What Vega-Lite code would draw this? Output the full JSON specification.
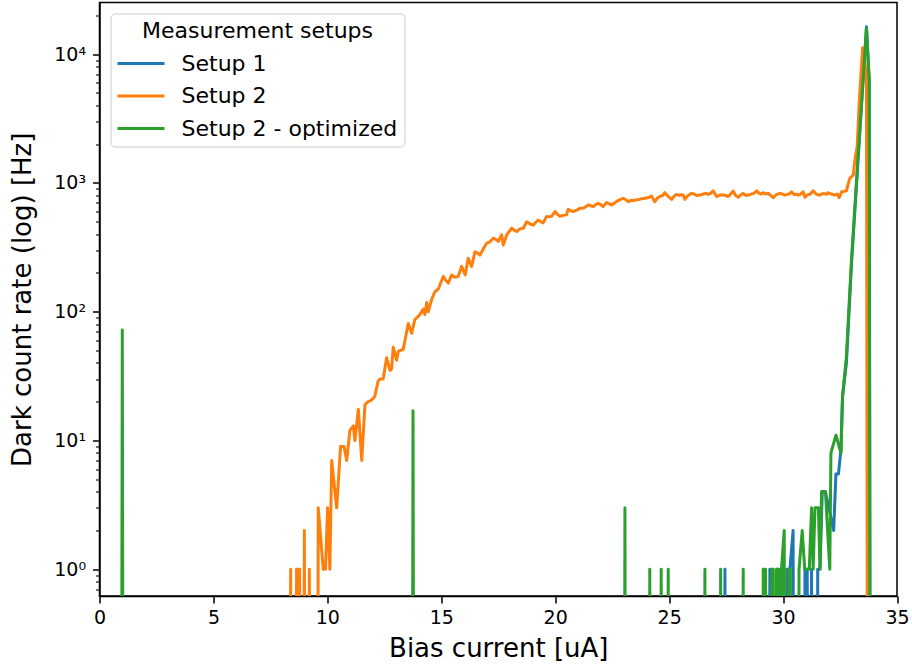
{
  "$schema": "https://vega.github.io/schema/vega-lite/v6.json",
  "autosize": {"type": "none"},
  "padding": {"left": 99.5, "top": 2.5, "right": 15, "bottom": 76},
  "width": 797.5,
  "height": 593.5,
  "background": "white",
  "config": {
    "font": "DejaVu Sans",
    "view": {"stroke": "black", "strokeWidth": 1.5},
    "axis": {"grid": false, "domainColor": "black", "domainWidth": 1.5, "tickColor": "black", "labelColor": "black", "titleColor": "black", "labelFont": "DejaVu Sans", "titleFont": "DejaVu Sans", "titleFontWeight": "normal", "labelFontSize": 19, "titleFontSize": 26},
    "legend": {"strokeColor": "#cccccc", "fillColor": "rgba(255,255,255,0.8)", "cornerRadius": 4, "padding": 7}
  },
  "data": {"values": [
    {"setup":"Setup 1","bias":27.35,"rate":1e-9},
    {"setup":"Setup 1","bias":27.45,"rate":1},
    {"setup":"Setup 1","bias":27.55,"rate":1e-9},
    {"setup":"Setup 1","bias":29.32,"rate":1e-9},
    {"setup":"Setup 1","bias":29.42,"rate":1},
    {"setup":"Setup 1","bias":29.52,"rate":1e-9},
    {"setup":"Setup 1","bias":29.65,"rate":1e-9},
    {"setup":"Setup 1","bias":29.75,"rate":1},
    {"setup":"Setup 1","bias":29.85,"rate":1e-9},
    {"setup":"Setup 1","bias":30.07,"rate":1e-9},
    {"setup":"Setup 1","bias":30.17,"rate":1},
    {"setup":"Setup 1","bias":30.3,"rate":1},
    {"setup":"Setup 1","bias":30.44,"rate":2},
    {"setup":"Setup 1","bias":30.54,"rate":1e-9},
    {"setup":"Setup 1","bias":30.86,"rate":1e-9},
    {"setup":"Setup 1","bias":30.96,"rate":1},
    {"setup":"Setup 1","bias":31.06,"rate":1},
    {"setup":"Setup 1","bias":31.16,"rate":1e-9},
    {"setup":"Setup 1","bias":31.25,"rate":1},
    {"setup":"Setup 1","bias":31.35,"rate":1e-9},
    {"setup":"Setup 1","bias":31.45,"rate":1e-9},
    {"setup":"Setup 1","bias":31.52,"rate":1},
    {"setup":"Setup 1","bias":31.62,"rate":1},
    {"setup":"Setup 1","bias":31.72,"rate":4},
    {"setup":"Setup 1","bias":31.86,"rate":4},
    {"setup":"Setup 1","bias":32.22,"rate":2},
    {"setup":"Setup 1","bias":32.32,"rate":5.5},
    {"setup":"Setup 1","bias":32.43,"rate":5.5},
    {"setup":"Setup 1","bias":32.54,"rate":8.5},
    {"setup":"Setup 1","bias":32.61,"rate":22},
    {"setup":"Setup 1","bias":32.78,"rate":40},
    {"setup":"Setup 1","bias":33.0,"rate":230},
    {"setup":"Setup 1","bias":33.3,"rate":1600},
    {"setup":"Setup 1","bias":33.66,"rate":16300},
    {"setup":"Setup 1","bias":33.78,"rate":6300},
    {"setup":"Setup 1","bias":33.88,"rate":1e-9},

    {"setup":"Setup 2","bias":8.29,"rate":1e-9},
    {"setup":"Setup 2","bias":8.39,"rate":1},
    {"setup":"Setup 2","bias":8.5,"rate":1e-9},
    {"setup":"Setup 2","bias":8.65,"rate":1},
    {"setup":"Setup 2","bias":8.78,"rate":1},
    {"setup":"Setup 2","bias":8.88,"rate":1e-9},
    {"setup":"Setup 2","bias":8.99,"rate":2},
    {"setup":"Setup 2","bias":9.1,"rate":1e-9},
    {"setup":"Setup 2","bias":9.21,"rate":1},
    {"setup":"Setup 2","bias":9.31,"rate":1e-9},
    {"setup":"Setup 2","bias":9.5,"rate":1e-9},
    {"setup":"Setup 2","bias":9.6,"rate":3},
    {"setup":"Setup 2","bias":9.82,"rate":1},
    {"setup":"Setup 2","bias":9.92,"rate":1},
    {"setup":"Setup 2","bias":10.01,"rate":3},
    {"setup":"Setup 2","bias":10.11,"rate":1},
    {"setup":"Setup 2","bias":10.19,"rate":7},
    {"setup":"Setup 2","bias":10.41,"rate":3},
    {"setup":"Setup 2","bias":10.58,"rate":9},
    {"setup":"Setup 2","bias":10.73,"rate":9},
    {"setup":"Setup 2","bias":10.85,"rate":7},
    {"setup":"Setup 2","bias":10.99,"rate":12},
    {"setup":"Setup 2","bias":11.14,"rate":13},
    {"setup":"Setup 2","bias":11.21,"rate":10},
    {"setup":"Setup 2","bias":11.36,"rate":17.5},
    {"setup":"Setup 2","bias":11.51,"rate":7},
    {"setup":"Setup 2","bias":11.65,"rate":19},
    {"setup":"Setup 2","bias":11.79,"rate":20},
    {"setup":"Setup 2","bias":11.94,"rate":20.6},
    {"setup":"Setup 2","bias":12.08,"rate":22},
    {"setup":"Setup 2","bias":12.23,"rate":29},
    {"setup":"Setup 2","bias":12.31,"rate":30},
    {"setup":"Setup 2","bias":12.45,"rate":30},
    {"setup":"Setup 2","bias":12.6,"rate":44},
    {"setup":"Setup 2","bias":12.75,"rate":35},
    {"setup":"Setup 2","bias":12.82,"rate":36},
    {"setup":"Setup 2","bias":12.89,"rate":53},
    {"setup":"Setup 2","bias":13.04,"rate":42},
    {"setup":"Setup 2","bias":13.11,"rate":49},
    {"setup":"Setup 2","bias":13.19,"rate":50},
    {"setup":"Setup 2","bias":13.33,"rate":51},
    {"setup":"Setup 2","bias":13.55,"rate":81},
    {"setup":"Setup 2","bias":13.7,"rate":68},
    {"setup":"Setup 2","bias":13.84,"rate":87},
    {"setup":"Setup 2","bias":13.99,"rate":92},
    {"setup":"Setup 2","bias":14.06,"rate":95},
    {"setup":"Setup 2","bias":14.21,"rate":105},
    {"setup":"Setup 2","bias":14.28,"rate":95},
    {"setup":"Setup 2","bias":14.36,"rate":118},
    {"setup":"Setup 2","bias":14.43,"rate":100},
    {"setup":"Setup 2","bias":14.58,"rate":125},
    {"setup":"Setup 2","bias":14.72,"rate":143},
    {"setup":"Setup 2","bias":14.87,"rate":150},
    {"setup":"Setup 2","bias":15.09,"rate":188},
    {"setup":"Setup 2","bias":15.2,"rate":175},
    {"setup":"Setup 2","bias":15.31,"rate":167},
    {"setup":"Setup 2","bias":15.45,"rate":193},
    {"setup":"Setup 2","bias":15.6,"rate":185},
    {"setup":"Setup 2","bias":15.74,"rate":188},
    {"setup":"Setup 2","bias":15.89,"rate":225},
    {"setup":"Setup 2","bias":16.05,"rate":193},
    {"setup":"Setup 2","bias":16.18,"rate":260},
    {"setup":"Setup 2","bias":16.33,"rate":225},
    {"setup":"Setup 2","bias":16.48,"rate":292},
    {"setup":"Setup 2","bias":16.6,"rate":285},
    {"setup":"Setup 2","bias":16.7,"rate":276},
    {"setup":"Setup 2","bias":16.85,"rate":310},
    {"setup":"Setup 2","bias":16.99,"rate":340},
    {"setup":"Setup 2","bias":17.14,"rate":350},
    {"setup":"Setup 2","bias":17.28,"rate":372},
    {"setup":"Setup 2","bias":17.4,"rate":365},
    {"setup":"Setup 2","bias":17.5,"rate":351},
    {"setup":"Setup 2","bias":17.65,"rate":395},
    {"setup":"Setup 2","bias":17.72,"rate":330},
    {"setup":"Setup 2","bias":17.87,"rate":395},
    {"setup":"Setup 2","bias":17.98,"rate":420},
    {"setup":"Setup 2","bias":18.09,"rate":445},
    {"setup":"Setup 2","bias":18.2,"rate":430},
    {"setup":"Setup 2","bias":18.31,"rate":420},
    {"setup":"Setup 2","bias":18.45,"rate":440},
    {"setup":"Setup 2","bias":18.6,"rate":445},
    {"setup":"Setup 2","bias":18.75,"rate":500},
    {"setup":"Setup 2","bias":18.9,"rate":480},
    {"setup":"Setup 2","bias":19.03,"rate":470},
    {"setup":"Setup 2","bias":19.15,"rate":495},
    {"setup":"Setup 2","bias":19.25,"rate":515},
    {"setup":"Setup 2","bias":19.37,"rate":500},
    {"setup":"Setup 2","bias":19.47,"rate":490},
    {"setup":"Setup 2","bias":19.62,"rate":550},
    {"setup":"Setup 2","bias":19.73,"rate":545},
    {"setup":"Setup 2","bias":19.84,"rate":550},
    {"setup":"Setup 2","bias":19.99,"rate":600},
    {"setup":"Setup 2","bias":20.1,"rate":570},
    {"setup":"Setup 2","bias":20.21,"rate":550},
    {"setup":"Setup 2","bias":20.35,"rate":560},
    {"setup":"Setup 2","bias":20.5,"rate":565},
    {"setup":"Setup 2","bias":20.57,"rate":625},
    {"setup":"Setup 2","bias":20.68,"rate":610},
    {"setup":"Setup 2","bias":20.79,"rate":600},
    {"setup":"Setup 2","bias":20.95,"rate":615},
    {"setup":"Setup 2","bias":21.08,"rate":635},
    {"setup":"Setup 2","bias":21.25,"rate":640},
    {"setup":"Setup 2","bias":21.45,"rate":675},
    {"setup":"Setup 2","bias":21.55,"rate":665},
    {"setup":"Setup 2","bias":21.67,"rate":655},
    {"setup":"Setup 2","bias":21.78,"rate":680},
    {"setup":"Setup 2","bias":21.89,"rate":695},
    {"setup":"Setup 2","bias":22.0,"rate":680},
    {"setup":"Setup 2","bias":22.1,"rate":655},
    {"setup":"Setup 2","bias":22.25,"rate":705},
    {"setup":"Setup 2","bias":22.36,"rate":690},
    {"setup":"Setup 2","bias":22.47,"rate":675},
    {"setup":"Setup 2","bias":22.6,"rate":700},
    {"setup":"Setup 2","bias":22.76,"rate":730},
    {"setup":"Setup 2","bias":22.87,"rate":745},
    {"setup":"Setup 2","bias":22.98,"rate":760},
    {"setup":"Setup 2","bias":23.1,"rate":740},
    {"setup":"Setup 2","bias":23.2,"rate":715},
    {"setup":"Setup 2","bias":23.35,"rate":735},
    {"setup":"Setup 2","bias":23.45,"rate":730},
    {"setup":"Setup 2","bias":23.57,"rate":740},
    {"setup":"Setup 2","bias":23.7,"rate":745},
    {"setup":"Setup 2","bias":23.8,"rate":755},
    {"setup":"Setup 2","bias":23.94,"rate":760},
    {"setup":"Setup 2","bias":24.1,"rate":770},
    {"setup":"Setup 2","bias":24.23,"rate":790},
    {"setup":"Setup 2","bias":24.37,"rate":715},
    {"setup":"Setup 2","bias":24.48,"rate":760},
    {"setup":"Setup 2","bias":24.59,"rate":785},
    {"setup":"Setup 2","bias":24.7,"rate":795},
    {"setup":"Setup 2","bias":24.81,"rate":840},
    {"setup":"Setup 2","bias":24.95,"rate":790},
    {"setup":"Setup 2","bias":25.11,"rate":745},
    {"setup":"Setup 2","bias":25.22,"rate":790},
    {"setup":"Setup 2","bias":25.33,"rate":815},
    {"setup":"Setup 2","bias":25.45,"rate":800},
    {"setup":"Setup 2","bias":25.55,"rate":810},
    {"setup":"Setup 2","bias":25.62,"rate":805},
    {"setup":"Setup 2","bias":25.69,"rate":745},
    {"setup":"Setup 2","bias":25.8,"rate":790},
    {"setup":"Setup 2","bias":25.9,"rate":815},
    {"setup":"Setup 2","bias":25.99,"rate":830},
    {"setup":"Setup 2","bias":26.1,"rate":820},
    {"setup":"Setup 2","bias":26.2,"rate":800},
    {"setup":"Setup 2","bias":26.35,"rate":805},
    {"setup":"Setup 2","bias":26.5,"rate":820},
    {"setup":"Setup 2","bias":26.6,"rate":830},
    {"setup":"Setup 2","bias":26.71,"rate":815},
    {"setup":"Setup 2","bias":26.82,"rate":830},
    {"setup":"Setup 2","bias":26.93,"rate":870},
    {"setup":"Setup 2","bias":27.08,"rate":785},
    {"setup":"Setup 2","bias":27.2,"rate":800},
    {"setup":"Setup 2","bias":27.3,"rate":810},
    {"setup":"Setup 2","bias":27.37,"rate":805},
    {"setup":"Setup 2","bias":27.48,"rate":800},
    {"setup":"Setup 2","bias":27.59,"rate":785},
    {"setup":"Setup 2","bias":27.7,"rate":820},
    {"setup":"Setup 2","bias":27.81,"rate":865},
    {"setup":"Setup 2","bias":27.92,"rate":800},
    {"setup":"Setup 2","bias":28.04,"rate":775},
    {"setup":"Setup 2","bias":28.15,"rate":810},
    {"setup":"Setup 2","bias":28.25,"rate":830},
    {"setup":"Setup 2","bias":28.36,"rate":800},
    {"setup":"Setup 2","bias":28.47,"rate":805},
    {"setup":"Setup 2","bias":28.6,"rate":820},
    {"setup":"Setup 2","bias":28.72,"rate":830},
    {"setup":"Setup 2","bias":28.84,"rate":870},
    {"setup":"Setup 2","bias":28.95,"rate":830},
    {"setup":"Setup 2","bias":29.05,"rate":820},
    {"setup":"Setup 2","bias":29.13,"rate":840},
    {"setup":"Setup 2","bias":29.25,"rate":820},
    {"setup":"Setup 2","bias":29.35,"rate":830},
    {"setup":"Setup 2","bias":29.45,"rate":800},
    {"setup":"Setup 2","bias":29.57,"rate":770},
    {"setup":"Setup 2","bias":29.7,"rate":810},
    {"setup":"Setup 2","bias":29.86,"rate":830},
    {"setup":"Setup 2","bias":29.97,"rate":820},
    {"setup":"Setup 2","bias":30.08,"rate":805},
    {"setup":"Setup 2","bias":30.2,"rate":815},
    {"setup":"Setup 2","bias":30.3,"rate":830},
    {"setup":"Setup 2","bias":30.37,"rate":855},
    {"setup":"Setup 2","bias":30.5,"rate":810},
    {"setup":"Setup 2","bias":30.58,"rate":820},
    {"setup":"Setup 2","bias":30.66,"rate":805},
    {"setup":"Setup 2","bias":30.77,"rate":820},
    {"setup":"Setup 2","bias":30.88,"rate":855},
    {"setup":"Setup 2","bias":30.96,"rate":775},
    {"setup":"Setup 2","bias":31.08,"rate":810},
    {"setup":"Setup 2","bias":31.2,"rate":820},
    {"setup":"Setup 2","bias":31.32,"rate":870},
    {"setup":"Setup 2","bias":31.45,"rate":820},
    {"setup":"Setup 2","bias":31.53,"rate":810},
    {"setup":"Setup 2","bias":31.61,"rate":805},
    {"setup":"Setup 2","bias":31.7,"rate":820},
    {"setup":"Setup 2","bias":31.8,"rate":830},
    {"setup":"Setup 2","bias":31.9,"rate":815},
    {"setup":"Setup 2","bias":31.98,"rate":840},
    {"setup":"Setup 2","bias":32.1,"rate":820},
    {"setup":"Setup 2","bias":32.2,"rate":815},
    {"setup":"Setup 2","bias":32.27,"rate":805},
    {"setup":"Setup 2","bias":32.38,"rate":820},
    {"setup":"Setup 2","bias":32.46,"rate":770},
    {"setup":"Setup 2","bias":32.57,"rate":855},
    {"setup":"Setup 2","bias":32.68,"rate":860},
    {"setup":"Setup 2","bias":32.78,"rate":870},
    {"setup":"Setup 2","bias":32.93,"rate":1090},
    {"setup":"Setup 2","bias":33.08,"rate":1150},
    {"setup":"Setup 2","bias":33.15,"rate":1500},
    {"setup":"Setup 2","bias":33.25,"rate":1900},
    {"setup":"Setup 2","bias":33.35,"rate":4500},
    {"setup":"Setup 2","bias":33.49,"rate":11200},
    {"setup":"Setup 2","bias":33.66,"rate":7000},
    {"setup":"Setup 2","bias":33.76,"rate":1e-9},

    {"setup":"Setup 2 - optimized","bias":0.9,"rate":1e-9},
    {"setup":"Setup 2 - optimized","bias":1.0,"rate":72},
    {"setup":"Setup 2 - optimized","bias":1.1,"rate":1e-9},
    {"setup":"Setup 2 - optimized","bias":13.66,"rate":1e-9},
    {"setup":"Setup 2 - optimized","bias":13.76,"rate":17},
    {"setup":"Setup 2 - optimized","bias":13.86,"rate":1e-9},
    {"setup":"Setup 2 - optimized","bias":22.96,"rate":1e-9},
    {"setup":"Setup 2 - optimized","bias":23.06,"rate":3},
    {"setup":"Setup 2 - optimized","bias":23.16,"rate":1e-9},
    {"setup":"Setup 2 - optimized","bias":24.05,"rate":1e-9},
    {"setup":"Setup 2 - optimized","bias":24.15,"rate":1},
    {"setup":"Setup 2 - optimized","bias":24.25,"rate":1e-9},
    {"setup":"Setup 2 - optimized","bias":24.55,"rate":1e-9},
    {"setup":"Setup 2 - optimized","bias":24.65,"rate":1},
    {"setup":"Setup 2 - optimized","bias":24.75,"rate":1e-9},
    {"setup":"Setup 2 - optimized","bias":24.86,"rate":1e-9},
    {"setup":"Setup 2 - optimized","bias":24.96,"rate":1},
    {"setup":"Setup 2 - optimized","bias":25.06,"rate":1e-9},
    {"setup":"Setup 2 - optimized","bias":26.47,"rate":1e-9},
    {"setup":"Setup 2 - optimized","bias":26.57,"rate":1},
    {"setup":"Setup 2 - optimized","bias":26.67,"rate":1e-9},
    {"setup":"Setup 2 - optimized","bias":27.16,"rate":1e-9},
    {"setup":"Setup 2 - optimized","bias":27.26,"rate":1},
    {"setup":"Setup 2 - optimized","bias":27.36,"rate":1e-9},
    {"setup":"Setup 2 - optimized","bias":28.15,"rate":1e-9},
    {"setup":"Setup 2 - optimized","bias":28.25,"rate":1},
    {"setup":"Setup 2 - optimized","bias":28.35,"rate":1e-9},
    {"setup":"Setup 2 - optimized","bias":29.03,"rate":1e-9},
    {"setup":"Setup 2 - optimized","bias":29.13,"rate":1},
    {"setup":"Setup 2 - optimized","bias":29.23,"rate":1},
    {"setup":"Setup 2 - optimized","bias":29.33,"rate":1e-9},
    {"setup":"Setup 2 - optimized","bias":29.42,"rate":1e-9},
    {"setup":"Setup 2 - optimized","bias":29.5,"rate":1},
    {"setup":"Setup 2 - optimized","bias":29.57,"rate":1},
    {"setup":"Setup 2 - optimized","bias":29.64,"rate":1e-9},
    {"setup":"Setup 2 - optimized","bias":29.71,"rate":1},
    {"setup":"Setup 2 - optimized","bias":29.8,"rate":1},
    {"setup":"Setup 2 - optimized","bias":29.87,"rate":1e-9},
    {"setup":"Setup 2 - optimized","bias":29.93,"rate":1},
    {"setup":"Setup 2 - optimized","bias":30.05,"rate":2},
    {"setup":"Setup 2 - optimized","bias":30.15,"rate":1e-9},
    {"setup":"Setup 2 - optimized","bias":30.25,"rate":1},
    {"setup":"Setup 2 - optimized","bias":30.32,"rate":1},
    {"setup":"Setup 2 - optimized","bias":30.42,"rate":1e-9},
    {"setup":"Setup 2 - optimized","bias":30.6,"rate":1e-9},
    {"setup":"Setup 2 - optimized","bias":30.7,"rate":1},
    {"setup":"Setup 2 - optimized","bias":30.84,"rate":2},
    {"setup":"Setup 2 - optimized","bias":30.95,"rate":1},
    {"setup":"Setup 2 - optimized","bias":31.05,"rate":1},
    {"setup":"Setup 2 - optimized","bias":31.15,"rate":1},
    {"setup":"Setup 2 - optimized","bias":31.25,"rate":3},
    {"setup":"Setup 2 - optimized","bias":31.32,"rate":1},
    {"setup":"Setup 2 - optimized","bias":31.4,"rate":3},
    {"setup":"Setup 2 - optimized","bias":31.55,"rate":3},
    {"setup":"Setup 2 - optimized","bias":31.62,"rate":1},
    {"setup":"Setup 2 - optimized","bias":31.69,"rate":4},
    {"setup":"Setup 2 - optimized","bias":31.86,"rate":4},
    {"setup":"Setup 2 - optimized","bias":32.05,"rate":1},
    {"setup":"Setup 2 - optimized","bias":32.1,"rate":8},
    {"setup":"Setup 2 - optimized","bias":32.32,"rate":11},
    {"setup":"Setup 2 - optimized","bias":32.54,"rate":8},
    {"setup":"Setup 2 - optimized","bias":32.61,"rate":22},
    {"setup":"Setup 2 - optimized","bias":32.78,"rate":45},
    {"setup":"Setup 2 - optimized","bias":33.0,"rate":250},
    {"setup":"Setup 2 - optimized","bias":33.3,"rate":1700},
    {"setup":"Setup 2 - optimized","bias":33.66,"rate":15900},
    {"setup":"Setup 2 - optimized","bias":33.78,"rate":6300},
    {"setup":"Setup 2 - optimized","bias":33.88,"rate":1e-9}
  ]},
  "mark": {"type": "line", "clip": true, "strokeWidth": 3, "strokeJoin": "round", "strokeCap": "butt"},
  "encoding": {
    "x": {
      "field": "bias", "type": "quantitative",
      "scale": {"domain": [0, 35], "nice": false, "zero": false},
      "axis": {"title": "Bias current [uA]", "values": [0, 5, 10, 15, 20, 25, 30, 35], "tickSize": 7, "tickWidth": 1.5, "labelPadding": 5, "titlePadding": 8, "labelFlush": false, "labelOverlap": false}
    },
    "y": {
      "field": "rate", "type": "quantitative",
      "scale": {"type": "log", "domain": [0.62, 25200], "nice": false},
      "axis": {
        "title": "Dark count rate (log) [Hz]",
        "values": [0.7, 0.8, 0.9, 1, 2, 3, 4, 5, 6, 7, 8, 9, 10, 20, 30, 40, 50, 60, 70, 80, 90, 100, 200, 300, 400, 500, 600, 700, 800, 900, 1000, 2000, 3000, 4000, 5000, 6000, 7000, 8000, 9000, 10000, 20000],
        "labelExpr": "datum.value == 1 ? '10⁰' : datum.value == 10 ? '10¹' : datum.value == 100 ? '10²' : datum.value == 1000 ? '10³' : datum.value == 10000 ? '10⁴' : ''",
        "tickSize": {"condition": {"test": "indexof([1,10,100,1000,10000], datum.value) >= 0", "value": 7}, "value": 4},
        "tickWidth": {"condition": {"test": "indexof([1,10,100,1000,10000], datum.value) >= 0", "value": 1.5}, "value": 1.1},
        "labelPadding": 7, "titlePadding": 18, "labelOverlap": false, "labelFlush": false
      }
    },
    "color": {
      "field": "setup", "type": "nominal",
      "scale": {"domain": ["Setup 1", "Setup 2", "Setup 2 - optimized"], "range": ["#1f77b4", "#ff7f0e", "#2ca02c"]},
      "legend": {
        "title": "Measurement setups", "orient": "top-left", "offset": 11,
        "titleFontSize": 22, "titleFontWeight": "normal", "titleColor": "black", "titleAnchor": "middle", "titlePadding": 10, "titleLimit": 500,
        "labelFontSize": 22, "labelColor": "black", "labelFont": "DejaVu Sans", "titleFont": "DejaVu Sans", "labelLimit": 500,
        "symbolType": "M-1.158,0L3.79,0", "symbolSize": 361, "symbolStrokeWidth": 2.8,
        "labelOffset": 42, "rowPadding": 10.5
      }
    }
  }
}
